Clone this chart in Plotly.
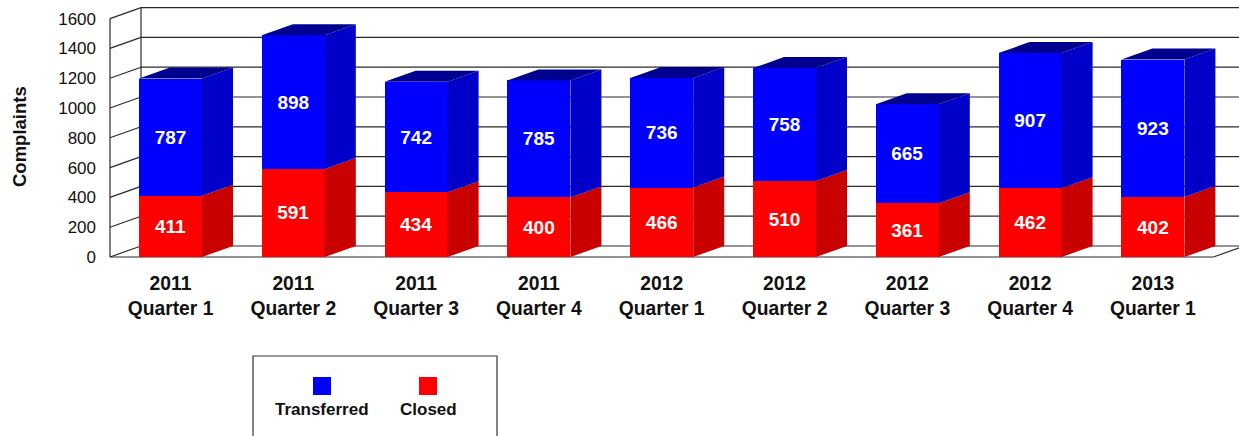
import plotly.graph_objects as go

# ---- data ----
quarters = ["2011<br>Quarter 1", "2011<br>Quarter 2", "2011<br>Quarter 3", "2011<br>Quarter 4",
            "2012<br>Quarter 1", "2012<br>Quarter 2", "2012<br>Quarter 3", "2012<br>Quarter 4",
            "2013<br>Quarter 1"]
closed = [411, 591, 434, 400, 466, 510, 361, 462, 402]
transferred = [787, 898, 742, 785, 736, 758, 665, 907, 923]
y_ticks = [0, 200, 400, 600, 800, 1000, 1200, 1400, 1600]
series_names = ["Transferred", "Closed"]
y_title = "Complaints"

# ---- geometry / style ----
W, H = 1239, 436
L, RPX, T, B = 100, 1239, 3, 262
BASE_PX = 257
PX_PER_UNIT = 0.149
SLOT_PX = 122.8
FIRST_CENTER_PX = 170.5

def xpx(px):
    return (px - FIRST_CENTER_PX) / SLOT_PX

x_range = [xpx(L), xpx(RPX)]
y_range = [-(B - BASE_PX) / PX_PER_UNIT, (BASE_PX - T) / PX_PER_UNIT]

bar_w = 63 / SLOT_PX
dx = 31 / SLOT_PX
dy = 11 / PX_PER_UNIT
wall_front = xpx(110)
floor_right = (len(quarters) - 1) + (FIRST_CENTER_PX - 110) / SLOT_PX
wall_back = wall_front + dx

BLUE, BLUE_SIDE, BLUE_TOP = "#0000FF", "#0000C8", "#000090"
RED, RED_SIDE = "#FF0000", "#C80000"
GRID = "#2a2a2a"
FONT = "Liberation Sans, Arial, sans-serif"

def ppx(px):
    return (px - L) / (RPX - L)

def ppy(py):
    return (B - py) / (B - T)

xs = list(range(len(quarters)))

fig = go.Figure()
fig.add_trace(go.Bar(
    x=xs, y=closed, name=series_names[1], width=bar_w,
    marker=dict(color=RED, line=dict(width=0)),
    text=closed, textposition="inside", insidetextanchor="middle", textangle=0,
    textfont=dict(color="white", size=19, family=FONT, weight="bold"),
    showlegend=False, hoverinfo="skip"))
fig.add_trace(go.Bar(
    x=xs, y=transferred, name=series_names[0], width=bar_w,
    marker=dict(color=BLUE, line=dict(width=0)),
    text=transferred, textposition="inside", insidetextanchor="middle", textangle=0,
    textfont=dict(color="white", size=19, family=FONT, weight="bold"),
    showlegend=False, hoverinfo="skip"))

shapes = []

def line(x0, y0, x1, y1, layer="below", color=GRID, width=1.2):
    shapes.append(dict(type="line", xref="x", yref="y", x0=x0, y0=y0, x1=x1, y1=y1,
                       line=dict(color=color, width=width), layer=layer))

def poly(pts, color):
    path = "M " + " L ".join(f"{a},{b}" for a, b in pts) + " Z"
    shapes.append(dict(type="path", xref="x", yref="y", path=path,
                       fillcolor=color, line=dict(width=0), layer="above"))

# walls and gridlines
for v in y_ticks:
    line(wall_front, v, wall_back, v + dy)
    line(wall_back, v + dy, x_range[1] + 1, v + dy)
line(wall_front, 0, wall_front, y_ticks[-1])
line(wall_back, dy, wall_back, y_ticks[-1] + dy)
line(wall_front, 0, floor_right, 0)
line(floor_right, 0, floor_right + dx, dy)

# 3D faces of bars
for i, (c, t) in enumerate(zip(closed, transferred)):
    xl, xr = i - bar_w / 2, i + bar_w / 2
    tot = c + t
    poly([(xr, 0), (xr + dx, dy), (xr + dx, c + dy), (xr, c)], RED_SIDE)
    poly([(xr, c), (xr + dx, c + dy), (xr + dx, tot + dy), (xr, tot)], BLUE_SIDE)
    poly([(xl, tot), (xr, tot), (xr + dx, tot + dy), (xl + dx, tot + dy)], BLUE_TOP)

# legend box
shapes.append(dict(type="rect", xref="paper", yref="paper",
                   x0=ppx(253), x1=ppx(497), y0=ppy(445), y1=ppy(356),
                   line=dict(color="#333333", width=1.2), fillcolor="rgba(0,0,0,0)"))
legend_items = [(series_names[0], BLUE, 322), (series_names[1], RED, 428)]
annotations = []
for name, col, cx in legend_items:
    shapes.append(dict(type="rect", xref="paper", yref="paper",
                       x0=ppx(cx - 9), x1=ppx(cx + 9), y0=ppy(395), y1=ppy(377),
                       line=dict(width=0), fillcolor=col))
    annotations.append(dict(xref="paper", yref="paper", x=ppx(cx), y=ppy(409),
                            text=name, showarrow=False, xanchor="center", yanchor="middle",
                            font=dict(family=FONT, size=17, color="#111111", weight="bold")))

annotations.append(dict(xref="paper", yref="paper", x=ppx(19), y=ppy(137),
                        text=y_title, showarrow=False, textangle=-90,
                        xanchor="center", yanchor="middle",
                        font=dict(family=FONT, size=18.5, color="#111111", weight="bold")))

fig.update_layout(
    width=W, height=H,
    margin=dict(l=L, r=W - RPX, t=T, b=H - B, pad=0),
    barmode="stack",
    plot_bgcolor="white", paper_bgcolor="white",
    shapes=shapes, annotations=annotations,
    showlegend=False,
    xaxis=dict(range=x_range, tickvals=xs, ticktext=quarters, showgrid=False,
               zeroline=False, showline=False, ticks="", ticklabelstandoff=8,
               tickfont=dict(family=FONT, size=19.3, color="#111111", weight="bold")),
    yaxis=dict(range=y_range, tickvals=y_ticks, showgrid=False, zeroline=False,
               showline=False, ticks="", ticklabelstandoff=3,
               tickfont=dict(family=FONT, size=17, color="#111111")),
)

fig.write_html("out.html", config={"displayModeBar": False},
               post_script="document.body.style.margin='0';document.body.style.overflow='hidden';")
